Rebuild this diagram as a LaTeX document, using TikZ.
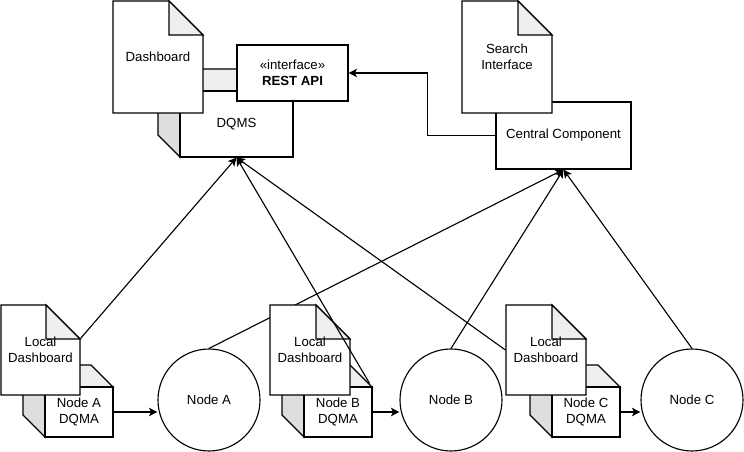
\documentclass[tikz,border=0pt]{standalone}
\usepackage{fontspec}
\setmainfont{Liberation Sans}
\usepackage{tikz}
\usetikzlibrary{arrows.meta,positioning,calc}

\definecolor{flapgrey}{HTML}{EEEEEE}
\definecolor{sidegrey}{HTML}{DDDDDD}
\pgfdeclarelayer{back}
\pgfsetlayers{back,main}

% note with folded corner: name, centre x, centre y, width, height, text
\newcommand{\notedoc}[6]{%
  \begin{scope}[shift={(#2,#3)}]
    \filldraw[fill=white] ({-#4/2},{-#5/2}) -- ({#4/2-34},{-#5/2}) -- ({#4/2},{-#5/2+34}) -- ({#4/2},{#5/2}) -- ({-#4/2},{#5/2}) -- cycle;
    \filldraw[fill=flapgrey] ({#4/2-34},{-#5/2}) -- ({#4/2-34},{-#5/2+34}) -- ({#4/2},{-#5/2+34}) -- cycle;
  \end{scope}
  \node[txt, minimum width=#4*0.025cm, minimum height=#5*0.025cm] (#1) at (#2,#3) {#6};}

% box with depth: name, front centre x, front centre y, width, height, text
\newcommand{\cubebox}[6]{%
  \begin{scope}[shift={(#2,#3)}]
    \filldraw[fill=flapgrey] ({-#4/2-22},{-#5/2-22}) -- ({#4/2-22},{-#5/2-22}) -- ({#4/2},{-#5/2}) -- ({-#4/2},{-#5/2}) -- cycle;
    \filldraw[fill=sidegrey] ({-#4/2-22},{-#5/2-22}) -- ({-#4/2},{-#5/2}) -- ({-#4/2},{#5/2}) -- ({-#4/2-22},{#5/2-22}) -- cycle;
  \end{scope}
  \node[box, minimum width=#4*0.025cm, minimum height=#5*0.025cm] (#1) at (#2,#3) {#6};}

\begin{document}
\begin{tikzpicture}[
  x=0.025cm,y=-0.025cm,
  line width=0.8pt,
  txt/.style={font=\fontsize{9.4}{11.2}\selectfont, align=center, inner sep=0pt},
  box/.style={txt, draw, fill=white, rectangle},
  circ/.style={txt, draw, fill=white, circle, minimum size=102*0.025cm},
  arr/.style={-{Stealth[length=6pt,width=6pt,inset=1.5pt]}, line width=0.8pt}
]
\useasboundingbox (0,0) rectangle (744,452);

% central side
\cubebox{dqms}{236.5}{124}{113}{66}{DQMS}
\notedoc{dash}{158}{57}{90}{112}{Dashboard}
\node[box, minimum width=111*0.025cm, minimum height=56*0.025cm] (rest) at (292.5,73) {«interface»\\\textbf{REST API}};
\node[box, minimum width=135*0.025cm, minimum height=67*0.025cm] (cc) at (563.5,135.5) {Central Component};
\notedoc{search}{507}{57}{90}{112}{Search\\Interface}

% sites
\cubebox{qA}{79}{412}{68}{50}{Node A\\DQMA}
\notedoc{ldA}{40.5}{350}{79}{90}{Local\\Dashboard}
\node[circ] (nA) at (209,400) {Node A};
\cubebox{qB}{338}{412}{68}{50}{Node B\\DQMA}
\notedoc{ldB}{310}{350}{80}{90}{Local\\Dashboard}
\node[circ] (nB) at (451,400) {Node B};
\cubebox{qC}{586}{412}{68}{50}{Node C\\DQMA}
\notedoc{ldC}{546}{350}{80}{90}{Local\\Dashboard}
\node[circ] (nC) at (692,400) {Node C};

\foreach \q/\n in {qA/nA,qB/nB,qC/nC}{\draw[arr] (\q.east) -- (\q.east -| \n.west);}

\begin{pgfonlayer}{back}
\draw[arr] ($(ldA.north east)+(0,34)$) -- (dqms.south);
\draw[arr] (ldC.west) -- (dqms.south);
\foreach \n in {nA,nB,nC}{\draw[arr] (\n.north) -- (cc.south);}
\end{pgfonlayer}
\draw[arr] ($(qB.north east)+(-3,-3)$) -- (dqms.south);
\draw[arr] (cc.west) -- ++(-68,0) |- (rest.east);
\end{tikzpicture}
\end{document}
